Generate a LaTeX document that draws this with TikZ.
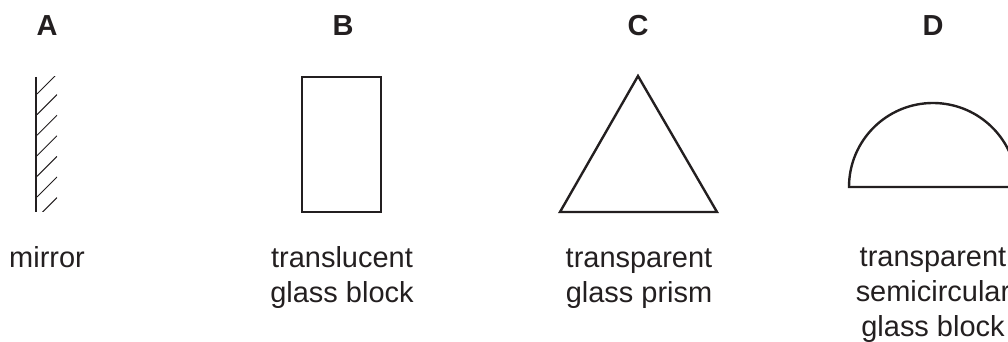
\documentclass[tikz,border=0pt]{standalone}
\usepackage{fontspec}
\setmainfont{Liberation Sans}
\usepackage{tikz}
\definecolor{ink}{HTML}{231F20}
\tikzstyle{texto}=[inner sep=0pt,anchor=base,align=center,text=ink,font=\fontsize{20.6}{24.9}\selectfont]
\tikzstyle{letra}=[texto,font=\fontsize{20.6}{24.9}\selectfont\bfseries]
\tikzstyle{forma}=[draw=ink,line width=1.7pt,line join=miter]

\begin{document}
\begin{tikzpicture}[x=0.025cm,y=0.025cm]
    \useasboundingbox (0,0) rectangle (1008,342);
    \clip (0,0) rectangle (1008,342);
    % letters
    \node [letra] (la) at (47,306) {A};
    \node [letra] (lb) at (343,306) {B};
    \node [letra] (lc) at (638,306) {C};
    \node [letra] (ld) at (933,306) {D};
    % mirror
    \draw [ink, line width=2.1pt] (36,265) -- (36,130);
    \begin{scope}
        \clip (37,130) rectangle (57,265);
        \foreach \k in {0,...,6}
            \draw [ink, line width=0.7pt] (37,248-20.6*\k) -- (57,268-20.6*\k);
    \end{scope}
    % glass block
    \draw [forma] (302,265) rectangle (381,130);
    % prism
    \draw [forma] (560,130) -- (638,266) -- (717,130) -- cycle;
    % semicircular block
    \draw [forma] (849,155) arc [start angle=180, end angle=0, radius=84] -- cycle;
    % names (base is the last line)
    \node [texto] (na) at (47,74) {mirror};
    \node [texto] (nb) at (342,39) {translucent\\glass block};
    \node [texto] (nc) at (639,39) {transparent\\glass prism};
    \node [texto] (nd) at (933,5) {transparent\\semicircular\\glass block};
\end{tikzpicture}
\end{document}
